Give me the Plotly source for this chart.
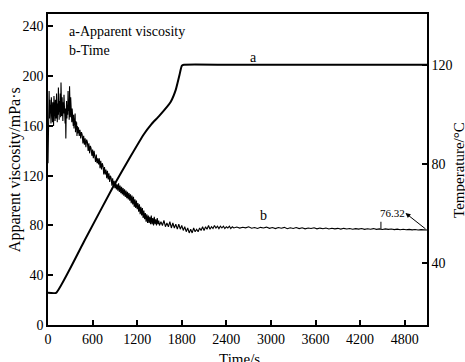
import plotly.graph_objects as go

# Temperature programme (right axis, °C)
temp_time = [0, 110, 490, 880, 1110, 1290, 1390, 1500, 1650, 1720, 1770, 1800, 1830,
             2400, 3000, 3600, 4200, 4800, 5100]
temp_value = [28, 28, 49, 71, 83, 92, 96, 99.5, 105, 110, 116, 119.6, 120,
              120, 120, 120, 120, 120, 120]

# Apparent viscosity record (left axis, mPa·s), logged at different intervals
visc_early = [  # 0 - 400 s, every 5 s
    130, 158, 176, 188, 166, 181, 170, 177, 162, 183,
    168, 175, 163, 179, 171, 160, 184, 169, 176, 164,
    181, 172, 166, 186, 170, 163, 178, 169, 191, 173,
    165, 180, 171, 186, 167, 195, 176, 168, 183, 172,
    164, 179, 170, 185, 167, 176, 162, 174, 150, 171,
    180, 166, 177, 169, 188, 172, 181, 165, 192, 174,
    167, 183, 170, 178, 163, 174, 166, 171, 160, 169,
    158, 166, 161, 170, 155, 164, 157, 163, 152, 160,
    154,
]
visc_decay = [  # 410 - 1500 s, every 10 s
    159, 152, 157, 150, 155, 153, 146, 152, 145, 150,
    143, 149, 147, 140, 146, 138, 144, 142, 136, 141,
    134, 140, 137, 131, 137, 130, 134, 129, 134, 126,
    132, 125, 130, 128, 121, 127, 121, 125, 118, 124,
    117, 122, 115, 120, 118, 112, 118, 111, 116, 110,
    115, 109, 113, 108, 114, 107, 112, 106, 111, 105,
    110, 104, 109, 103, 108, 102, 107, 101, 106, 100,
    105, 98, 104, 97, 103, 95, 101, 94, 100, 93,
    98, 91, 97, 89, 95, 88, 94, 86, 92, 85,
    90, 83, 89, 82, 88, 82, 87, 81, 88, 81,
    86, 80, 87, 81, 85, 80, 86, 81, 84, 80,
]
visc_settle = [  # 1520 - 2500 s, every 20 s
    83, 80, 84, 79, 82, 79, 83, 78, 82, 78,
    81, 77, 81, 77, 80, 76, 79, 75, 78, 74,
    77, 74, 78, 75, 77, 75, 78, 76, 79, 76,
    79, 77, 80, 77, 79, 77.5, 80, 78, 79.5, 77.5,
    79.5, 78, 79.5, 77.5, 79, 78, 79.5, 77.5, 79, 78,
]
visc_steady = [  # 2540 - 5100 s, every 40 s
    78.8, 77.9, 78.6, 78.1, 78.9, 77.8, 78.4, 77.6, 78.5, 78.0,
    78.7, 77.7, 78.3, 77.5, 78.4, 77.8, 78.5, 77.4, 78.2, 77.6,
    78.3, 77.5, 78.1, 77.3, 78.0, 77.6, 78.2, 77.3, 77.9, 77.4,
    78.0, 77.2, 77.8, 77.3, 77.7, 77.1, 77.7, 77.2, 77.6, 77.0,
    77.5, 77.1, 77.6, 76.9, 77.4, 77.0, 77.5, 76.9, 77.3, 76.8,
    77.3, 76.9, 77.2, 76.7, 77.1, 76.6, 77.0, 76.6, 76.9, 76.5,
    76.8, 76.4, 76.7, 76.4, 76.32,
]
visc_time = (
    list(range(0, 405, 5))
    + list(range(410, 1510, 10))
    + list(range(1520, 2520, 20))
    + list(range(2540, 5140, 40))
)
visc_value = visc_early + visc_decay + visc_settle + visc_steady

x_ticks = [0, 600, 1200, 1800, 2400, 3000, 3600, 4200, 4800]
left_ticks = [0, 40, 80, 120, 160, 200, 240]
right_ticks = [40, 80, 120]

end_value = visc_value[-1]
end_time = visc_time[-1]

FONT = "Liberation Serif"

fig = go.Figure()

fig.add_trace(go.Scatter(
    x=visc_time, y=visc_value, mode="lines",
    line=dict(color="black", width=1.1), yaxis="y", showlegend=False,
))
fig.add_trace(go.Scatter(
    x=temp_time, y=temp_value, mode="lines",
    line=dict(color="black", width=2, shape="spline", smoothing=0.4),
    yaxis="y2", showlegend=False,
))

axis_common = dict(
    showline=True, linecolor="black", linewidth=1.5,
    ticks="inside", ticklen=5, tickwidth=1.5, tickcolor="black",
    showgrid=False, zeroline=False,
    tickfont=dict(family=FONT, size=14, color="black"),
)

fig.update_layout(
    width=465, height=362,
    margin=dict(l=48, r=32, t=14, b=37),
    paper_bgcolor="white", plot_bgcolor="white",
    font=dict(family=FONT, color="black"),
    xaxis=dict(range=[0, 5100], tickvals=x_ticks, mirror=True, **axis_common),
    yaxis=dict(range=[0, 250], tickvals=left_ticks, **axis_common),
    yaxis2=dict(range=[15, 140.5], tickvals=right_ticks, overlaying="y",
                side="right", **axis_common),
)

annotations = [
    dict(text="a-Apparent viscosity", xref="paper", yref="paper", x=0.049, y=0.945,
         xanchor="left", yanchor="middle", showarrow=False, font=dict(size=14)),
    dict(text="b-Time", xref="paper", yref="paper", x=0.049, y=0.884,
         xanchor="left", yanchor="middle", showarrow=False, font=dict(size=14)),
    dict(text="Apparent viscosity/mPa·s", xref="paper", yref="paper", x=-0.088, y=0.5,
         textangle=-90, xanchor="center", yanchor="middle", showarrow=False,
         font=dict(size=16)),
    dict(text="Temperature/°C", xref="paper", yref="paper", x=1.083, y=0.5,
         textangle=-90, xanchor="center", yanchor="middle", showarrow=False,
         font=dict(size=15)),
    dict(text="Time/s", xref="paper", yref="paper", x=0.506, y=-0.108,
         xanchor="center", yanchor="middle", showarrow=False, font=dict(size=15)),
    dict(text="a", xref="x", yref="y", x=2760, y=215, showarrow=False,
         xanchor="center", yanchor="middle", font=dict(size=14)),
    dict(text="b", xref="x", yref="y", x=2900, y=88, showarrow=False,
         xanchor="center", yanchor="middle", font=dict(size=14)),
    dict(text=f"{end_value:.2f}", xref="x", yref="y", x=4630, y=90.4, showarrow=False,
         xanchor="center", yanchor="middle", font=dict(size=11)),
    dict(text="", xref="x", yref="y", x=4810, y=90, axref="x", ayref="y",
         ax=end_time, ay=end_value, showarrow=True, arrowhead=2, arrowsize=1,
         arrowwidth=1, arrowcolor="black"),
]
fig.update_layout(annotations=annotations)

# short leader under the end-value label
fig.add_shape(type="line", xref="x", yref="y", x0=4480, x1=4480, y0=77.3, y1=83,
              line=dict(color="black", width=1))

fig.write_html("out.html")
